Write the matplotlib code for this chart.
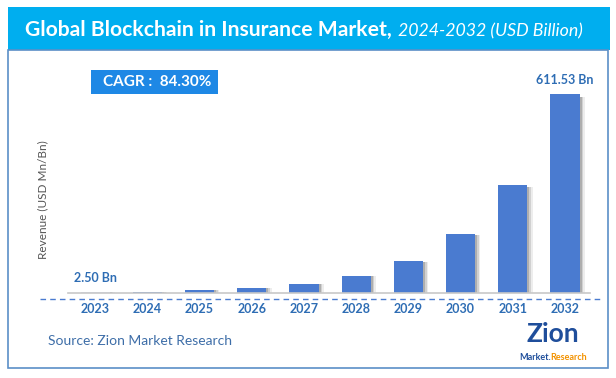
import numpy as np
import matplotlib
matplotlib.use("Agg")
import matplotlib.pyplot as plt
from matplotlib.patches import Rectangle
from matplotlib.lines import Line2D

# data
years = ["2023", "2024", "2025", "2026", "2027", "2028", "2029", "2030", "2031", "2032"]
revenue = [2.50, 4.6, 8.5, 15.6, 28.8, 53.0, 97.7, 180.0, 331.8, 611.53]
first_label = "2.50 Bn"
last_label = "611.53 Bn"
cagr_text = "CAGR :  84.30%"

W, H = 616, 378
plt.rcParams['font.family'] = ['Lato', 'DejaVu Sans']

fig = plt.figure(figsize=(W / 100, H / 100), dpi=100)
fig.patch.set_facecolor("white")

def fx(px):
    return px / W

def fy(py):
    return 1 - py / H

# title bar and outer frame
fig.patches.append(Rectangle((fx(8), fy(50)), fx(602), 43 / H, transform=fig.transFigure,
                             facecolor="#00AEEF", edgecolor="none", zorder=0))
fig.patches.append(Rectangle((fx(8), fy(368)), fx(600), 318 / H, transform=fig.transFigure,
                             facecolor="none", edgecolor="#5B8FC7", lw=1.2, zorder=0))
t1 = fig.text(fx(25), fy(36), "Global Blockchain in Insurance Market,", color="white",
              fontsize=15.2, fontweight="bold", va="baseline", ha="left")
fig.canvas.draw()
fig.text(t1.get_window_extent().x1 / W + fx(6), fy(36), "2024-2032 (USD Billion)",
         color="white", fontsize=12.8, style="italic", va="baseline", ha="left")

# bars
ax = fig.add_axes([fx(68), fy(293), fx(522), 233 / H])
x = np.arange(len(years))
cols = ["#DCE4F2"] + ["#4A7BD0"] * (len(years) - 1)
for off, a in [(0.10, 0.10), (0.07, 0.18), (0.04, 0.28)]:
    ax.bar(x + off, [v * 0.985 for v in revenue], width=0.56,
           color="#555555", alpha=a, zorder=1, linewidth=0)
ax.bar(x, revenue, width=0.56, color=cols, zorder=2, linewidth=0)
ax.set_xlim(-0.52, 9.48)
ax.set_ylim(0, 716)
for s in ["top", "right", "left"]:
    ax.spines[s].set_visible(False)
ax.spines["bottom"].set_color("#C8C8C8")
ax.spines["bottom"].set_linewidth(1.2)
ax.set_yticks([])
ax.set_xticks(x)
ax.set_xticklabels(years, fontsize=9, fontweight="bold", color="#2E6DB4")
ax.tick_params(axis="x", length=0, pad=7)
ax.patch.set_alpha(0)

ax.annotate(first_label, (0, revenue[0]), xytext=(0, 6), textcoords="offset points",
            ha="center", va="bottom", fontsize=9, fontweight="bold", color="#2E6DB4")
ax.annotate(last_label, (9, revenue[-1]), xytext=(0, 6), textcoords="offset points",
            ha="center", va="bottom", fontsize=9, fontweight="bold", color="#2E6DB4")

# dashed line below axis
fig.lines.append(Line2D([fx(40), fx(600)], [fy(299), fy(299)], transform=fig.transFigure,
                        color="#4A7BD0", lw=1, ls=(0, (4, 3))))

# y label
fig.text(fx(43), fy(200), "Revenue (USD Mn/Bn)", rotation=90, ha="center", va="center",
         fontsize=8.5, color="#555555")

# CAGR box
fig.patches.append(Rectangle((fx(91), fy(94)), fx(127), 24 / H, transform=fig.transFigure,
                             facecolor="#1E88E5", edgecolor="none"))
fig.text(fx(157), fy(82), cagr_text, color="white", fontsize=11, fontweight="bold",
         ha="center", va="center")

# source + logo
fig.text(fx(48), fy(341), "Source: Zion Market Research", fontsize=10, color="#3E6EA8",
         ha="left", va="center")
fig.text(fx(553), fy(334), "Zion", fontsize=19, fontweight="bold", color="#1F4E9B",
         ha="center", va="center")
m = fig.text(fx(519), fy(357), "Market.", fontsize=6.5, fontweight="bold", color="#1F4E9B",
             ha="left", va="center")
fig.canvas.draw()
fig.text(m.get_window_extent().x1 / W, fy(357), "Research", fontsize=6.5, fontweight="bold",
         color="#F39200", ha="left", va="center")

fig.savefig("out.png", dpi=100)
